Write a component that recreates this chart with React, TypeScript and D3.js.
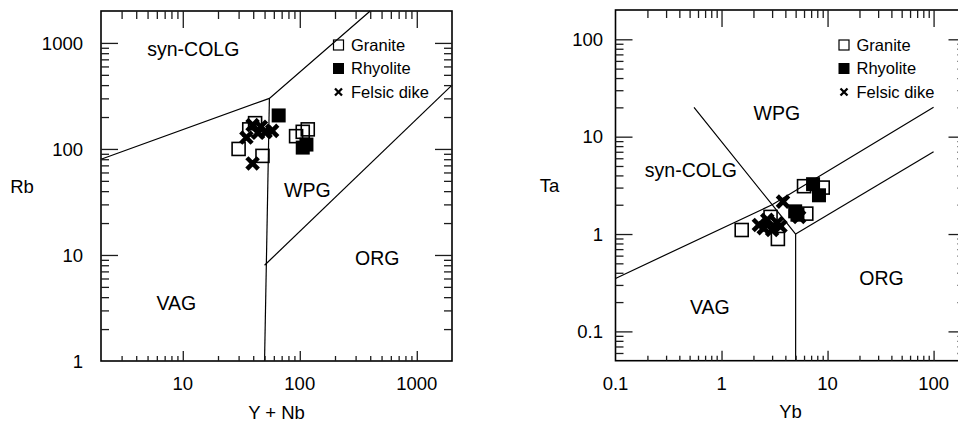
import { useEffect, useRef } from 'react'
import * as d3 from 'd3'

type Pt = [number, number]

const FONT = '"Liberation Sans", Arial, Helvetica, sans-serif'

// ---- left panel: Rb vs (Y + Nb)
const rbGranite: Pt[] = [[30, 100], [37, 153], [41.5, 175], [48, 86], [93, 132], [106, 145], [117, 153]]
const rbRhyolite: Pt[] = [[66, 207], [106, 103], [114, 110]]
const rbDike: Pt[] = [[35, 128], [39.5, 168], [44, 142], [46.5, 162], [51, 145], [58, 148], [39.5, 73]]
const rbFields: Pt[][] = [
  [[2, 80], [55, 300], [400, 2000]],
  [[55, 300], [50, 1]],
  [[50, 8], [2000, 400]],
]
const rbFieldNames = [
  { name: 'syn-COLG', at: [12.3, 875] as Pt },
  { name: 'WPG', at: [116, 41] as Pt },
  { name: 'ORG', at: [459, 9.4] as Pt },
  { name: 'VAG', at: [8.8, 3.5] as Pt },
]
const rbXLabels = [10, 100, 1000]
const rbYLabels = [1, 10, 100, 1000]

// ---- right panel: Ta vs Yb
const taGranite: Pt[] = [[1.55, 1.1], [2.9, 1.5], [3.4, 0.89], [6.0, 3.1], [9.0, 3.0], [6.3, 1.62]]
const taRhyolite: Pt[] = [[7.3, 3.25], [8.3, 2.5], [4.95, 1.71], [5.2, 1.58]]
const taDike: Pt[] = [[2.25, 1.24], [2.7, 1.4], [3.0, 1.1], [3.35, 1.3], [3.6, 1.2], [2.5, 1.15], [3.8, 2.15], [5.4, 1.5]]
const taFields: Pt[][] = [
  [[0.1, 0.35], [3, 2], [100, 20]],
  [[0.55, 20], [3, 2], [5, 1]],
  [[5, 1], [100, 7]],
  [[5, 1], [5, 0.05]],
]
const taFieldNames = [
  { name: 'WPG', at: [3.32, 17.5] as Pt },
  { name: 'syn-COLG', at: [0.514, 4.55] as Pt },
  { name: 'ORG', at: [32.3, 0.354] as Pt },
  { name: 'VAG', at: [0.777, 0.179] as Pt },
]
const taXLabels = [0.1, 1, 10, 100]
const taYLabels = [0.1, 1, 10, 100]

const legendNames = ['Granite', 'Rhyolite', 'Felsic dike']

// 1..9 x 10^n values strictly inside the domain
function logTicks(lo: number, hi: number) {
  const out: { v: number; major: boolean }[] = []
  for (let e = Math.floor(Math.log10(lo)); e <= Math.ceil(Math.log10(hi)); e++) {
    for (let k = 1; k < 10; k++) {
      const v = k * Math.pow(10, e)
      if (v > lo * 1.0001 && v < hi * 0.9999) out.push({ v, major: k === 1 })
    }
  }
  return out
}

function Cross({ x, y, r, w }: { x: number; y: number; r: number; w: number }) {
  return (
    <path
      d={`M${x - r},${y - r}L${x + r},${y + r}M${x - r},${y + r}L${x + r},${y - r}`}
      stroke="#000"
      strokeWidth={w}
      fill="none"
    />
  )
}

function Panel(props: {
  xDomain: Pt; yDomain: Pt; xRange: Pt; yRange: Pt
  granite: Pt[]; rhyolite: Pt[]; dike: Pt[]; fields: Pt[][]
  names: { name: string; at: Pt }[]
  xLabels: number[]; yLabels: number[]
  xTitle: string; yTitle: string; yTitleX: number; yLabelGap: number
  legendX: number
}) {
  const tickRef = useRef<SVGGElement>(null)
  const x = d3.scaleLog().domain(props.xDomain).range(props.xRange)
  const y = d3.scaleLog().domain(props.yDomain).range(props.yRange)
  const xL = props.xRange[0]
  const xR = props.xRange[1]
  const yB = props.yRange[0]
  const yT = props.yRange[1]
  const line = d3.line<Pt>().x((d) => x(d[0])).y((d) => y(d[1]))
  const lx = props.legendX
  const ly = [45, 68.5, 92]

  // inward ticks on all four sides, drawn with d3 axes
  useEffect(() => {
    if (!tickRef.current) return
    const g = d3.select(tickRef.current)
    g.selectAll('*').remove()
    const xt = logTicks(props.xDomain[0], props.xDomain[1])
    const yt = logTicks(props.yDomain[0], props.yDomain[1])
    const pick = (t: { v: number; major: boolean }[], m: boolean) => t.filter((d) => d.major === m).map((d) => d.v)
    const sides: [any, string, number][] = []
    for (const m of [true, false]) {
      sides.push([d3.axisTop(x).tickValues(pick(xt, m)), `translate(0,${yT})`, m ? 17 : 8])
      sides.push([d3.axisBottom(x).tickValues(pick(xt, m)), `translate(0,${yB})`, m ? 10 : 5])
      sides.push([d3.axisLeft(y).tickValues(pick(yt, m)), `translate(${xL},0)`, m ? 17 : 8])
      sides.push([d3.axisRight(y).tickValues(pick(yt, m)), `translate(${xR},0)`, m ? 17 : 8])
    }
    sides.forEach(([axis, tr, len]) => {
      const a = g
        .append('g')
        .attr('transform', tr)
        .call(axis.tickSize(-len).tickFormat(() => ''))
      a.select('.domain').remove()
      a.selectAll('line').attr('stroke', '#1c1c1c').attr('stroke-width', 1.3)
      a.selectAll('text').remove()
    })
  }, [])

  return (
    <>
      <rect x={xL} y={yT} width={xR - xL} height={yB - yT} fill="none" stroke="#000" strokeWidth={1.6} />

      {props.fields.map((f, i) => (
        <path key={'f' + i} d={line(f) || ''} fill="none" stroke="#000" strokeWidth={1.2} />
      ))}
      {props.names.map((n) => (
        <text key={n.name} x={x(n.at[0])} y={y(n.at[1])} dy="0.36em" textAnchor="middle" fontSize={19.5}>
          {n.name}
        </text>
      ))}

      {props.granite.map((d, i) => (
        <rect key={'g' + i} x={x(d[0]) - 6.5} y={y(d[1]) - 6.5} width={13} height={13} fill="none" stroke="#000" strokeWidth={1.6} />
      ))}
      {props.rhyolite.map((d, i) => (
        <rect key={'r' + i} x={x(d[0]) - 7} y={y(d[1]) - 7} width={14} height={14} fill="#000" />
      ))}
      {props.dike.map((d, i) => (
        <Cross key={'d' + i} x={x(d[0])} y={y(d[1])} r={5.7} w={4.5} />
      ))}

      <rect x={lx - 5} y={ly[0] - 5} width={10} height={10} fill="none" stroke="#000" strokeWidth={1.2} />
      <rect x={lx - 5.5} y={ly[1] - 5.5} width={11} height={11} fill="#000" />
      <Cross x={lx} y={ly[2]} r={3.5} w={2.3} />
      {legendNames.map((s, i) => (
        <text key={s} x={lx + 12.5} y={ly[i]} dy="0.36em" fontSize={16.5}>
          {s}
        </text>
      ))}

      {props.xLabels.map((v) => (
        <text key={'xl' + v} x={x(v)} y={yB + 29} textAnchor="middle" fontSize={18.5}>
          {String(v)}
        </text>
      ))}
      {props.yLabels.map((v) => (
        <text key={'yl' + v} x={xL - props.yLabelGap} y={y(v)} dy="0.36em" textAnchor="end" fontSize={18.5}>
          {String(v)}
        </text>
      ))}
      <text x={(xL + xR) / 2} y={yB + 57.5} textAnchor="middle" fontSize={18.5}>
        {props.xTitle}
      </text>
      <text x={props.yTitleX} y={(yB + yT) / 2} dy="0.36em" textAnchor="middle" fontSize={18.5}>
        {props.yTitle}
      </text>
      <g ref={tickRef} />
    </>
  )
}

export default function App() {
  return (
    <svg width={958} height={422} style={{ position: 'absolute', left: 0, top: 0 }} fontFamily={FONT}>
      <Panel
        xDomain={[2, 2000]} yDomain={[1, 2000]} xRange={[101, 452]} yRange={[361, 11]}
        granite={rbGranite} rhyolite={rbRhyolite} dike={rbDike} fields={rbFields}
        names={rbFieldNames} xLabels={rbXLabels} yLabels={rbYLabels}
        xTitle="Y + Nb" yTitle="Rb" yTitleX={22} yLabelGap={18}
        legendX={338.5}
      />
      <Panel
        xDomain={[0.1, 200]} yDomain={[0.05, 200]} xRange={[615.5, 965.5]} yRange={[360.7, 10]}
        granite={taGranite} rhyolite={taRhyolite} dike={taDike} fields={taFields}
        names={taFieldNames} xLabels={taXLabels} yLabels={taYLabels}
        xTitle="Yb" yTitle="Ta" yTitleX={549.5} yLabelGap={12.5}
        legendX={844}
      />
    </svg>
  )
}
